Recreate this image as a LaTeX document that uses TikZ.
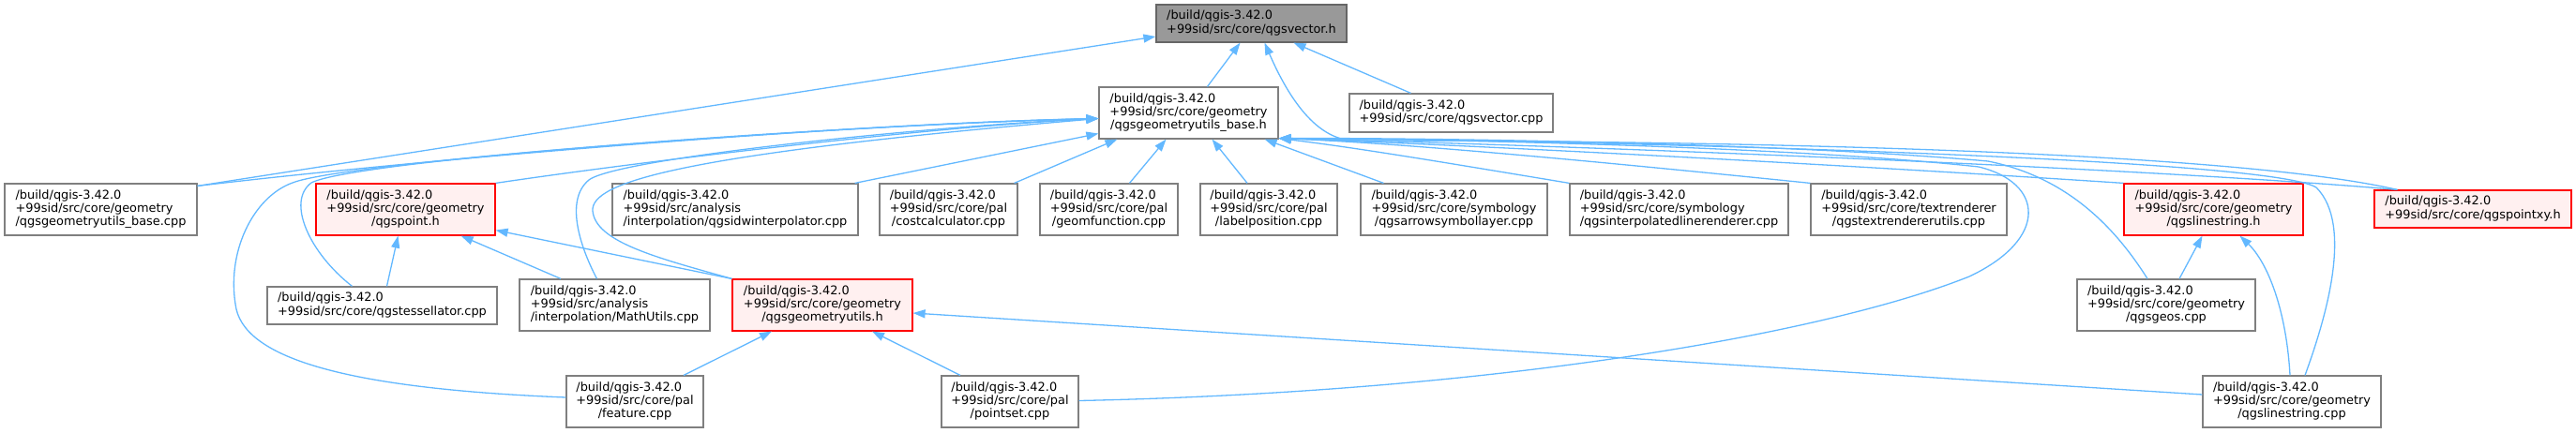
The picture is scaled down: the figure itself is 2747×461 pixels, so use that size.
\documentclass[tikz,border=0pt]{standalone}
\usepackage{fontspec}
\setmainfont{DejaVu Sans}
\usetikzlibrary{arrows.meta}
\definecolor{edgeblue}{HTML}{63B8FF}
\definecolor{boxline}{HTML}{7F7F7F}
\definecolor{rootline}{HTML}{666666}
\definecolor{rootfill}{HTML}{999999}
\definecolor{redfill}{HTML}{FFF0F0}
\newcommand\Ltwo[2]{\begin{tabular}{@{}l@{}}#1\\#2\end{tabular}}
\newcommand\Lthree[3]{\begin{tabular}{@{}l@{}}#1\\#2\\\multicolumn{1}{@{}c@{}}{#3}\end{tabular}}
\newcommand\Bq{/build/qgis-3.42.0}
\begin{document}
\begin{tikzpicture}[x=1pt,y=-1pt,
  filebox/.style={draw=boxline, fill=white, line width=1.2pt, inner sep=0pt, font=\fontsize{12.9}{14.3}\selectfont},
  rootbox/.style={filebox, draw=rootline, fill=rootfill},
  truncbox/.style={filebox, draw=red, fill=redfill},
  dep/.style={draw=edgeblue, line width=1.3pt, -{Triangle[length=13pt,width=9pt]}},
]
\useasboundingbox (0,0) rectangle (2747,461);

% nodes
\node[rootbox, minimum width=203pt, minimum height=40pt] (V) at (1334.5,25) {\Ltwo{\Bq}{+99sid/src/core/qgsvector.h}};
\node[filebox, minimum width=191pt, minimum height=55pt] (B) at (1267.5,120.5) {\Lthree{\Bq}{+99sid/src/core/geometry}{/qgsgeometryutils\_base.h}};
\node[filebox, minimum width=217pt, minimum height=41pt] (VC) at (1547.5,120.5) {\Ltwo{\Bq}{+99sid/src/core/qgsvector.cpp}};

\node[filebox, minimum width=205pt, minimum height=55pt] (BC) at (107.5,223.5) {\Lthree{\Bq}{+99sid/src/core/geometry}{/qgsgeometryutils\_base.cpp}};
\node[truncbox, minimum width=191pt, minimum height=55pt] (P) at (432.5,223.5) {\Lthree{\Bq}{+99sid/src/core/geometry}{/qgspoint.h}};
\node[filebox, minimum width=262pt, minimum height=55pt] (IDW) at (784,223.5) {\Lthree{\Bq}{+99sid/src/analysis}{/interpolation/qgsidwinterpolator.cpp}};
\node[filebox, minimum width=147pt, minimum height=55pt] (CC) at (1011.5,223.5) {\Lthree{\Bq}{+99sid/src/core/pal}{/costcalculator.cpp}};
\node[filebox, minimum width=147pt, minimum height=55pt] (GF) at (1182.5,223.5) {\Lthree{\Bq}{+99sid/src/core/pal}{/geomfunction.cpp}};
\node[filebox, minimum width=146pt, minimum height=55pt] (LP) at (1353,223.5) {\Lthree{\Bq}{+99sid/src/core/pal}{/labelposition.cpp}};
\node[filebox, minimum width=199pt, minimum height=55pt] (AS) at (1550.5,223.5) {\Lthree{\Bq}{+99sid/src/core/symbology}{/qgsarrowsymbollayer.cpp}};
\node[filebox, minimum width=233pt, minimum height=55pt] (IL) at (1790.5,223.5) {\Lthree{\Bq}{+99sid/src/core/symbology}{/qgsinterpolatedlinerenderer.cpp}};
\node[filebox, minimum width=209pt, minimum height=55pt] (TR) at (2035.5,223.5) {\Lthree{\Bq}{+99sid/src/core/textrenderer}{/qgstextrendererutils.cpp}};
\node[truncbox, minimum width=191pt, minimum height=55pt] (LH) at (2360.5,223.5) {\Lthree{\Bq}{+99sid/src/core/geometry}{/qgslinestring.h}};
\node[truncbox, minimum width=210pt, minimum height=40pt] (PXY) at (2637,223) {\Ltwo{\Bq}{+99sid/src/core/qgspointxy.h}};

\node[filebox, minimum width=245pt, minimum height=40pt] (TS) at (407.5,326) {\Ltwo{\Bq}{+99sid/src/core/qgstessellator.cpp}};
\node[filebox, minimum width=203pt, minimum height=55pt] (MU) at (655.5,325.5) {\Lthree{\Bq}{+99sid/src/analysis}{/interpolation/MathUtils.cpp}};
\node[truncbox, minimum width=192pt, minimum height=55pt] (GU) at (877,325.5) {\Lthree{\Bq}{+99sid/src/core/geometry}{/qgsgeometryutils.h}};
\node[filebox, minimum width=190pt, minimum height=55pt] (GEOS) at (2310,325.5) {\Lthree{\Bq}{+99sid/src/core/geometry}{/qgsgeos.cpp}};

\node[filebox, minimum width=146pt, minimum height=55pt] (FE) at (677,428.5) {\Lthree{\Bq}{+99sid/src/core/pal}{/feature.cpp}};
\node[filebox, minimum width=146pt, minimum height=55pt] (PS) at (1077,428.5) {\Lthree{\Bq}{+99sid/src/core/pal}{/pointset.cpp}};
\node[filebox, minimum width=190pt, minimum height=55pt] (LC) at (2444,428.5) {\Lthree{\Bq}{+99sid/src/core/geometry}{/qgslinestring.cpp}};

% edges to qgsvector.h
\draw[dep] ([xshift=20pt]B.north) -- ([xshift=-12pt]V.south);
\draw[dep] ([xshift=-43pt]VC.north) -- ([xshift=45pt]V.south);
\draw[dep] ([yshift=-3pt]BC.north east) -- ([yshift=-14pt]V.west);
\draw[dep] ([xshift=25pt]PXY.north west) .. controls (2350,155) and (1700,150) .. (1445,150) .. controls (1400,150) and (1370,95) .. ([xshift=14pt]V.south);

% edges to qgsgeometryutils_base.h (left side)
\draw[dep] ([yshift=-3pt]BC.north east) .. controls (450,170) and (900,132) .. ([yshift=-6pt]B.west);
\draw[dep] (P.north east) .. controls (700,170) and (1000,135) .. ([yshift=-6pt]B.west);
\draw[dep] ([xshift=-32pt]TS.north) .. controls (330,270) and (305,215) .. (332,195) .. controls (380,170) and (900,133) .. ([yshift=-6pt]B.west);
\draw[dep] ([yshift=4.5pt]FE.west) .. controls (380,415) and (265,385) .. (252,330) .. controls (240,270) and (270,210) .. (312,195) .. controls (370,172) and (900,133) .. ([yshift=-6pt]B.west);
\draw[dep] ([xshift=-19pt]MU.north) .. controls (622,270) and (600,215) .. (628,192) .. controls (660,168) and (1000,134) .. ([yshift=-6pt]B.west);
\draw[dep] (GU.north west) .. controls (700,275) and (635,258) .. (632,225) .. controls (630,195) and (720,165) .. ([yshift=-6pt]B.west);
\draw[dep] ([xshift=-4pt]IDW.north east) -- ([yshift=-22pt]B.west);

% edges to qgsgeometryutils_base.h (bottom)
\draw[dep] ([xshift=-4pt]CC.north east) -- ([xshift=20pt]B.south west);
\draw[dep] ([xshift=22pt]GF.north) -- ([xshift=-24pt]B.south);
\draw[dep] ([xshift=-23pt]LP.north) -- ([xshift=25pt]B.south);
\draw[dep] ([xshift=-75pt]AS.north) -- ([xshift=-15pt]B.south east);

% edges to qgsgeometryutils_base.h (right side)
\draw[dep] (IL.north west) .. controls (1550,175) and (1450,158) .. ([yshift=1pt]B.south east);
\draw[dep] (TR.north west) .. controls (1700,172) and (1500,153) .. ([yshift=1pt]B.south east);
\draw[dep] (LH.north west) .. controls (2000,178) and (1600,156) .. ([yshift=1pt]B.south east);
\draw[dep] ([xshift=25pt]PXY.north west) .. controls (2300,180) and (1700,156) .. ([yshift=1pt]B.south east);
\draw[dep] ([xshift=-20pt]GEOS.north) .. controls (2260,250) and (2210,190) .. (2120,172) .. controls (1900,152) and (1500,147) .. ([yshift=1pt]B.south east);
\draw[dep] ([yshift=1pt]PS.east) .. controls (1600,418) and (1950,355) .. (2100,295) .. controls (2185,255) and (2180,195) .. (2110,178) .. controls (1900,155) and (1500,148) .. ([yshift=1pt]B.south east);
\draw[dep] ([xshift=14pt]LC.north) .. controls (2480,340) and (2510,240) .. (2470,200) .. controls (2420,168) and (1700,150) .. ([yshift=1pt]B.south east);

% edges to qgspoint.h
\draw[dep] ([xshift=5pt]TS.north) -- ([xshift=-8pt]P.south);
\draw[dep] ([xshift=-57.5pt]MU.north) -- ([xshift=-37pt]P.south east);
\draw[dep] (GU.north west) -- ([yshift=6pt]P.south east);

% edges to qgsgeometryutils.h
\draw[dep] ([xshift=52pt]FE.north) -- ([xshift=-54pt]GU.south);
\draw[dep] ([xshift=-53pt]PS.north) -- ([xshift=53pt]GU.south);
\draw[dep] ([yshift=7.5pt]LC.west) -- ([yshift=-8.5pt]GU.east);

% edges to qgslinestring.h
\draw[dep] ([xshift=14pt]GEOS.north) -- ([xshift=-12pt]LH.south);
\draw[dep] ([xshift=-2pt]LC.north) .. controls (2438,330) and (2418,280) .. ([xshift=28pt]LH.south);
\end{tikzpicture}
\end{document}
